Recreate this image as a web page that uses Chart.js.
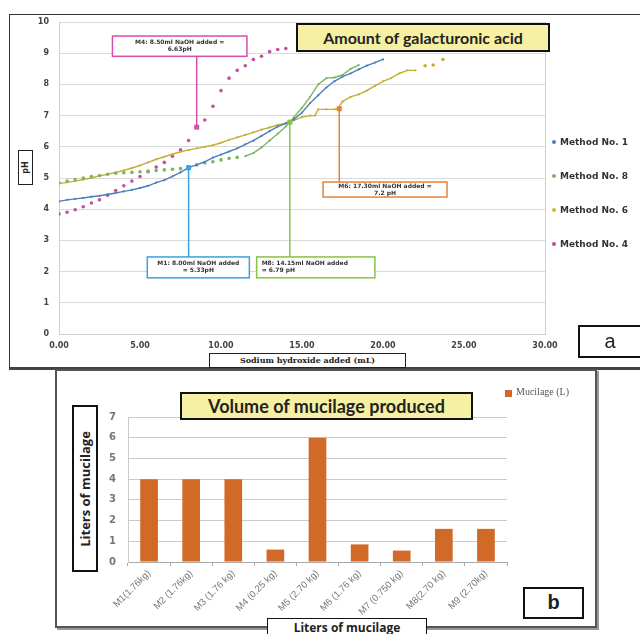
<!DOCTYPE html>
<html>
<head>
<meta charset="utf-8">
<script src="https://cdn.jsdelivr.net/npm/chart.js@4.4.1/dist/chart.umd.min.js"></script>
<style>
  body { margin: 0; width: 640px; height: 634px; position: relative; overflow: hidden; background: #fff; font-family: "Liberation Sans", sans-serif; }
  .abs { position: absolute; box-sizing: border-box; }
  canvas { position: absolute; }
  .ybox { display: flex; align-items: center; justify-content: center; background: #fff; }
  .ybox span { transform: rotate(-90deg); white-space: nowrap; }
  .titlebox { background: #f6f1a2; border: 2px solid #111; display: flex; align-items: center; justify-content: center; font-family: Lato, "Open Sans", sans-serif; font-weight: bold; color: #222; white-space: nowrap; }
  .leg { position: absolute; font-family: "DejaVu Sans", sans-serif; font-weight: bold; font-size: 9px; color: #333; white-space: nowrap; }
  .leg i { display: inline-block; width: 4px; height: 4px; border-radius: 2px; margin-right: 4px; vertical-align: 1px; }
</style>
</head>
<body>

<!-- panel a -->
<div class="abs" style="left:9px;top:14px;width:640px;height:356px;border:1px solid #333;border-bottom:3px solid #444;"></div>
<canvas id="phChart" width="640" height="370" style="left:0;top:0;"></canvas>
<div class="abs titlebox" style="left:296px;top:23px;width:254px;height:29px;font-size:16px;">Amount of galacturonic acid</div>
<div class="abs ybox" style="left:18px;top:150px;width:15px;height:35px;border:1.5px solid #222;font:bold 8px 'DejaVu Sans';color:#222;"><span>pH</span></div>
<div class="abs" style="left:209px;top:353px;width:197px;height:15px;border:1px solid #222;background:#fff;font:bold 8px 'DejaVu Serif';color:#222;text-align:center;line-height:13px;">Sodium hydroxide added (mL)</div>
<div class="leg" style="left:552px;top:137px;"><i style="background:#4a7ebb"></i>Method No. 1</div>
<div class="leg" style="left:552px;top:171px;"><i style="background:#7fb35f"></i>Method No. 8</div>
<div class="leg" style="left:552px;top:205px;"><i style="background:#d4b43c"></i>Method No. 6</div>
<div class="leg" style="left:552px;top:239px;"><i style="background:#c0509e"></i>Method No. 4</div>
<div class="abs" style="left:578px;top:325px;width:64px;height:33px;border:2px solid #111;background:#fff;font:20px 'Liberation Sans';text-align:center;line-height:28px;color:#222;">a</div>

<!-- panel b -->
<div class="abs" style="left:55px;top:369px;width:542px;height:259px;border:2px solid #555;box-shadow:2px 2px 0 #999;background:#fff;"></div>
<canvas id="mucChart" width="640" height="265" style="left:0;top:369px;"></canvas>
<div class="abs titlebox" style="left:180px;top:392px;width:293px;height:28px;font-size:18px;">Volume of mucilage produced</div>
<div class="abs ybox" style="left:72px;top:405px;width:26px;height:167px;border:2.5px solid #111;font:bold 13px 'Open Sans';color:#222;"><span>Liters of mucilage</span></div>
<div class="abs" style="left:505px;top:390px;width:7px;height:7px;background:#d06a26;"></div>
<div class="abs" style="left:516px;top:386px;font:10px 'Liberation Serif';color:#555;white-space:nowrap;">Mucilage (L)</div>
<div class="abs" style="left:523px;top:587px;width:61px;height:32px;border:2px solid #111;background:#fff;font:bold 20px 'Liberation Sans';text-align:center;line-height:27px;color:#222;">b</div>
<div class="abs" style="left:267px;top:618px;width:160px;height:22px;border:1.5px solid #111;background:#fff;font:bold 12px 'Open Sans';color:#222;text-align:center;line-height:17px;">Liters of mucilage</div>

<script>
// ---- chart a: pH vs NaOH added ----
const seriesNames = ['Method No. 1', 'Method No. 8', 'Method No. 6', 'Method No. 4'];
const seriesColors = ['#4a7ebb', '#7fb35f', '#c9ac35', '#c0509e'];

const m1X = [0,0.5,1,1.5,2,2.5,3,3.5,4,4.5,5,5.5,6,6.5,7,7.5,8,8.5,9,9.5,10,10.5,11,11.5,12,12.5,13,13.5,14,14.5,15,15.5,16,16.5,17,17.5,18,18.5,19,19.5,20];
const m1Y = [4.25,4.3,4.33,4.36,4.4,4.43,4.47,4.52,4.57,4.62,4.68,4.75,4.85,4.93,5.05,5.18,5.33,5.42,5.52,5.65,5.75,5.85,5.95,6.08,6.2,6.35,6.5,6.65,6.75,6.88,7.1,7.4,7.65,7.9,8.1,8.25,8.35,8.48,8.6,8.7,8.8];

const m8X = [0,0.5,1,1.5,2,2.5,3,3.5,4,4.5,5,5.5,6,6.5,7,7.5,8,8.5,9,9.5,10,10.5,11,11.5,12,12.5,13,13.5,14,14.25,14.5,15,15.5,16,16.5,17,17.5,18,18.5];
const m8Y = [4.85,4.9,4.95,5.0,5.05,5.08,5.12,5.15,5.17,5.18,5.2,5.22,5.24,5.26,5.28,5.3,5.35,5.42,5.48,5.52,5.58,5.63,5.66,5.7,5.8,5.98,6.2,6.42,6.65,6.79,6.95,7.25,7.6,8.0,8.2,8.22,8.3,8.5,8.62];

const m6X = [0,0.5,1,1.5,2,2.5,3,3.5,4,4.5,5,5.5,6,6.5,7,7.5,8,8.5,9,9.5,10,10.5,11,11.5,12,12.5,13,13.5,14,14.5,15,15.5,15.8,16,16.5,17,17.2,17.5,18,18.5,19,19.5,20,20.5,21,21.5,22,22.6,23.1,23.7];
const m6Y = [4.82,4.86,4.9,4.95,5.0,5.07,5.12,5.18,5.24,5.32,5.4,5.5,5.6,5.68,5.76,5.84,5.9,5.95,6.0,6.05,6.13,6.22,6.3,6.38,6.46,6.55,6.62,6.7,6.76,6.85,6.95,7.0,7.0,7.2,7.2,7.2,7.22,7.45,7.6,7.68,7.8,7.95,8.1,8.2,8.35,8.45,8.45,8.6,8.62,8.8];

const m4X = [0,0.5,1,1.5,2,2.5,3,3.5,4,4.5,5,5.5,6,6.5,7,7.5,8,8.5,9,9.5,10,10.5,11,11.5,12,12.5,13,13.5,14];
const m4Y = [3.85,3.9,3.98,4.08,4.2,4.3,4.45,4.6,4.75,4.9,5.05,5.2,5.35,5.5,5.7,5.9,6.2,6.63,6.86,7.3,7.8,8.2,8.45,8.6,8.8,8.9,9.05,9.12,9.15];

// x range over which each series is drawn as a joined line (rest are loose markers)
const lineRanges = [[0, 20], [11.5, 18.5], [0, 22], null];

// call-outs on the pH chart
const calloutX = [8.5, 8.0, 14.25, 17.3];
const calloutY = [6.63, 5.33, 6.79, 7.22];
const calloutText = [
  ['M4: 8.50ml NaOH added =', '6.63pH'],
  ['M1: 8.00ml NaOH added', '= 5.33pH'],
  ['M8: 14.15ml NaOH added', '= 6.79 pH'],
  ['M6: 17.30ml NaOH added =', '7.2 pH']
];
const calloutColors = ['#d450aa', '#3da0e0', '#86c443', '#e3823a'];
// box corners in data units: x0, yTop, x1, yBottom
const calloutBoxes = [[3.3, 9.55, 11.6, 8.9], [5.45, 2.47, 11.75, 1.8], [12.2, 2.47, 19.5, 1.8], [16.3, 4.87, 23.95, 4.39]];

// ---- chart b: mucilage volume ----
const mucLabels = ['M1(1.76kg)', 'M2 (1.76kg)', 'M3 (1.76 kg)', 'M4 (0.25 kg)', 'M5 (2.70 kg)', 'M6 (1.76 kg)', 'M7 (0.750 kg)', 'M8(2.70 kg)', 'M9 (2.70kg)'];
const mucValues = [4, 4, 4, 0.6, 6, 0.85, 0.55, 1.6, 1.6];

function toPoints(xs, ys) {
  return xs.map((x, i) => ({ x: x, y: ys[i] }));
}

function inRange(r, x) {
  return r && x >= r[0] && x <= r[1];
}

const phData = [toPoints(m1X, m1Y), toPoints(m8X, m8Y), toPoints(m6X, m6Y), toPoints(m4X, m4Y)];

const calloutPlugin = {
  id: 'callouts',
  afterDatasetsDraw(chart) {
    const c = chart.ctx;
    const sx = chart.scales.x, sy = chart.scales.y;
    c.save();
    calloutBoxes.forEach((b, i) => {
      const px = sx.getPixelForValue(calloutX[i]);
      const py = sy.getPixelForValue(calloutY[i]);
      const x0 = sx.getPixelForValue(b[0]), x1 = sx.getPixelForValue(b[2]);
      const y0 = sy.getPixelForValue(b[1]), y1 = sy.getPixelForValue(b[3]);
      c.strokeStyle = calloutColors[i];
      c.lineWidth = 1.5;
      // leader line
      c.beginPath();
      c.moveTo(px, py);
      c.lineTo(px, py < y0 ? y0 : y1);
      c.stroke();
      // marker on the point
      c.fillStyle = calloutColors[i];
      c.fillRect(px - 2.5, py - 2.5, 5, 5);
      // box
      c.fillStyle = '#fff';
      c.fillRect(x0, y0, x1 - x0, y1 - y0);
      c.strokeRect(x0, y0, x1 - x0, y1 - y0);
      c.fillStyle = '#333';
      c.font = 'bold 6px "DejaVu Sans"';
      c.textBaseline = 'middle';
      const mid = (y0 + y1) / 2;
      const lines = calloutText[i];
      lines.forEach((t, k) => {
        const ty = mid + (k - (lines.length - 1) / 2) * 7;
        if (i === 2) {
          c.textAlign = 'left';
          c.fillText(t, x0 + 5, ty);
        } else {
          c.textAlign = 'center';
          c.fillText(t, (x0 + x1) / 2, ty);
        }
      });
    });
    c.restore();
  }
};

new Chart(document.getElementById('phChart'), {
  type: 'scatter',
  data: {
    datasets: seriesNames.map((name, i) => ({
      label: name,
      data: phData[i],
      showLine: lineRanges[i] !== null,
      borderColor: seriesColors[i],
      backgroundColor: seriesColors[i],
      borderWidth: 1.4,
      pointRadius: ctx => inRange(lineRanges[i], ctx.raw ? ctx.raw.x : -1) ? 1.1 : 1.8,
      pointBorderWidth: 0,
      segment: {
        borderColor: ctx => (inRange(lineRanges[i], ctx.p0.parsed.x) && inRange(lineRanges[i], ctx.p1.parsed.x)) ? seriesColors[i] : 'transparent'
      }
    }))
  },
  options: {
    responsive: false,
    animation: false,
    layout: { padding: { top: 22, right: 95, bottom: 0, left: 0 } },
    plugins: { legend: { display: false }, tooltip: { enabled: false } },
    scales: {
      x: {
        type: 'linear', min: 0, max: 30,
        ticks: { stepSize: 5, padding: 7, color: '#444', font: { family: 'DejaVu Sans', size: 8, weight: 'bold' }, callback: v => v.toFixed(2) },
        grid: { drawTicks: false, color: ctx => ctx.tick && ctx.tick.value === 30 ? '#cfcfcf' : 'rgba(0,0,0,0)' },
        border: { color: '#cfcfcf' },
        afterFit: s => { s.height = 36; }
      },
      y: {
        min: 0, max: 10,
        ticks: { stepSize: 1, padding: 10, color: '#444', font: { family: 'DejaVu Sans', size: 8, weight: 'bold' } },
        grid: { drawTicks: false, color: '#d9d9d9' },
        border: { color: '#cfcfcf' },
        afterFit: s => { s.width = 59; }
      }
    }
  },
  plugins: [calloutPlugin]
});

new Chart(document.getElementById('mucChart'), {
  type: 'bar',
  data: {
    labels: mucLabels,
    datasets: [{
      label: 'Mucilage (L)',
      data: mucValues,
      backgroundColor: '#d06a26',
      categoryPercentage: 1,
      barPercentage: 0.42
    }]
  },
  options: {
    responsive: false,
    animation: false,
    layout: { padding: { top: 48, right: 133, bottom: 0, left: 0 } },
    plugins: { legend: { display: false }, tooltip: { enabled: false } },
    scales: {
      x: {
        ticks: { minRotation: 45, maxRotation: 45, padding: 2, color: '#777', font: { family: 'Liberation Sans', size: 9.5 } },
        grid: { drawOnChartArea: false, offset: true, tickLength: 4, color: '#aaa' },
        border: { color: '#a8a8a8' },
        afterFit: s => { s.height = 72; }
      },
      y: {
        min: 0, max: 7,
        ticks: { stepSize: 1, padding: 12, color: '#777', font: { family: 'DejaVu Sans', size: 10, weight: 'bold' } },
        grid: { drawTicks: false, color: '#cacaca' },
        border: { color: '#cacaca' },
        afterFit: s => { s.width = 128; }
      }
    }
  }
});
</script>
</body>
</html>
